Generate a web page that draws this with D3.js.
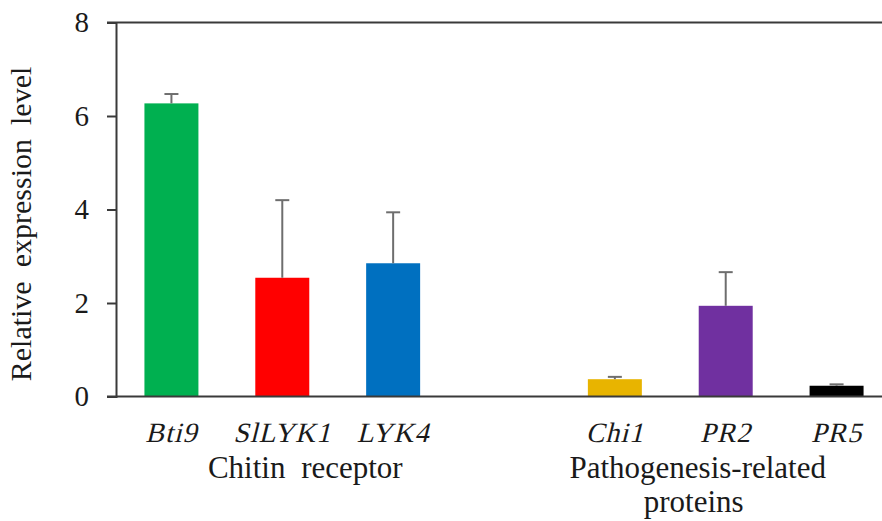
<!DOCTYPE html>
<html>
<head>
<meta charset="utf-8">
<script src="https://cdn.jsdelivr.net/npm/d3@7"></script>
<style>
  html, body { margin: 0; padding: 0; background: #fff; }
  svg { display: block; font-family: "Liberation Serif", "Times New Roman", serif; }
</style>
</head>
<body>
<svg id="chart" width="882" height="521"></svg>
<script>
// Relative expression of chitin receptor and PR genes
const chitinGenes = ["Bti9", "SlLYK1", "LYK4"];
const prGenes = ["Chi1", "PR2", "PR5"];
const genes = chitinGenes.concat(prGenes);
const expression = [6.27, 2.54, 2.85, 0.37, 1.94, 0.23];
const errorUpper = [0.20, 1.66, 1.09, 0.05, 0.72, 0.03];
const barColors = ["#00B050", "#FF0000", "#0070C0", "#E8B400", "#7030A0", "#000000"];
const yTicks = [0, 2, 4, 6, 8];
const groupLabels = [["Chitin receptor"], ["Pathogenesis-related", "proteins"]];
const yTitle = "Relative expression level";

const svg = d3.select("#chart");
const W = 882;
const axisX = 116, plotTop = 22.5, plotBottom = 396.5;

// one empty slot separates the two gene groups
const slots = chitinGenes.concat(["gap"], prGenes);
const x = d3.scaleBand().domain(slots).range([axisX, 892])
  .paddingInner(0.513).paddingOuter(0.2565);
const y = d3.scaleLinear().domain([0, 8]).range([plotBottom, plotTop]);

const ink = "#3a3a3a";
const textInk = "#1a1a1a";

// frame: top border
svg.append("line").attr("x1", 107).attr("x2", W).attr("y1", y(8)).attr("y2", y(8))
  .attr("stroke", ink).attr("stroke-width", 2);

// bars
const rows = genes.map((g, i) => ({ g, v: expression[i], e: errorUpper[i], c: barColors[i] }));
svg.append("g").selectAll("rect").data(rows).join("rect")
  .attr("x", d => x(d.g))
  .attr("width", x.bandwidth())
  .attr("y", d => y(d.v))
  .attr("height", d => y(0) - y(d.v))
  .attr("fill", d => d.c);

// upper error bars
const eb = svg.append("g").attr("stroke", "#6e6e6e").attr("stroke-width", 2);
rows.forEach(d => {
  const cx = x(d.g) + x.bandwidth() / 2;
  eb.append("line").attr("x1", cx).attr("x2", cx).attr("y1", y(d.v)).attr("y2", y(d.v + d.e));
  eb.append("line").attr("x1", cx - 7).attr("x2", cx + 7).attr("y1", y(d.v + d.e)).attr("y2", y(d.v + d.e));
});

// x baseline
svg.append("line").attr("x1", 107).attr("x2", W).attr("y1", y(0)).attr("y2", y(0))
  .attr("stroke", ink).attr("stroke-width", 2);

// y axis
const yAxis = svg.append("g").attr("transform", `translate(${axisX},0)`)
  .call(d3.axisLeft(y).tickValues(yTicks).tickSize(9).tickPadding(18).tickFormat(d3.format("d")));
yAxis.select(".domain").attr("stroke", ink).attr("stroke-width", 2);
yAxis.selectAll(".tick line").attr("stroke", ink).attr("stroke-width", 2);
yAxis.selectAll(".tick text").attr("font-family", "Liberation Serif, serif")
  .attr("font-size", 29).attr("fill", textInk).attr("dy", "0.32em");

// y title
svg.append("text")
  .attr("transform", `translate(31,${(65 + 383) / 2}) rotate(-90)`)
  .attr("text-anchor", "middle")
  .attr("font-size", 30).attr("word-spacing", 6.5).attr("fill", textInk)
  .text(yTitle);

// gene names, slanted
svg.append("g").selectAll("text").data(genes).join("text")
  .attr("transform", d => `translate(${x(d) + x.bandwidth() / 2},442) skewX(-14)`)
  .attr("text-anchor", "middle")
  .attr("font-size", 28)
  .attr("letter-spacing", 1)
  .attr("fill", textInk)
  .text(d => d);

// group names under each gene set
const groupCenters = [x(chitinGenes[1]) + x.bandwidth() / 2 + 23, x(prGenes[1]) + x.bandwidth() / 2 - 28];
groupLabels.forEach((lines, gi) => {
  lines.forEach((t, li) => {
    svg.append("text")
      .attr("x", groupCenters[gi] + (li ? -4 : 0))
      .attr("y", 478 + li * 34)
      .attr("text-anchor", "middle")
      .attr("font-size", 31)
      .attr("word-spacing", 8)
      .attr("fill", textInk)
      .text(t);
  });
});
</script>
</body>
</html>
